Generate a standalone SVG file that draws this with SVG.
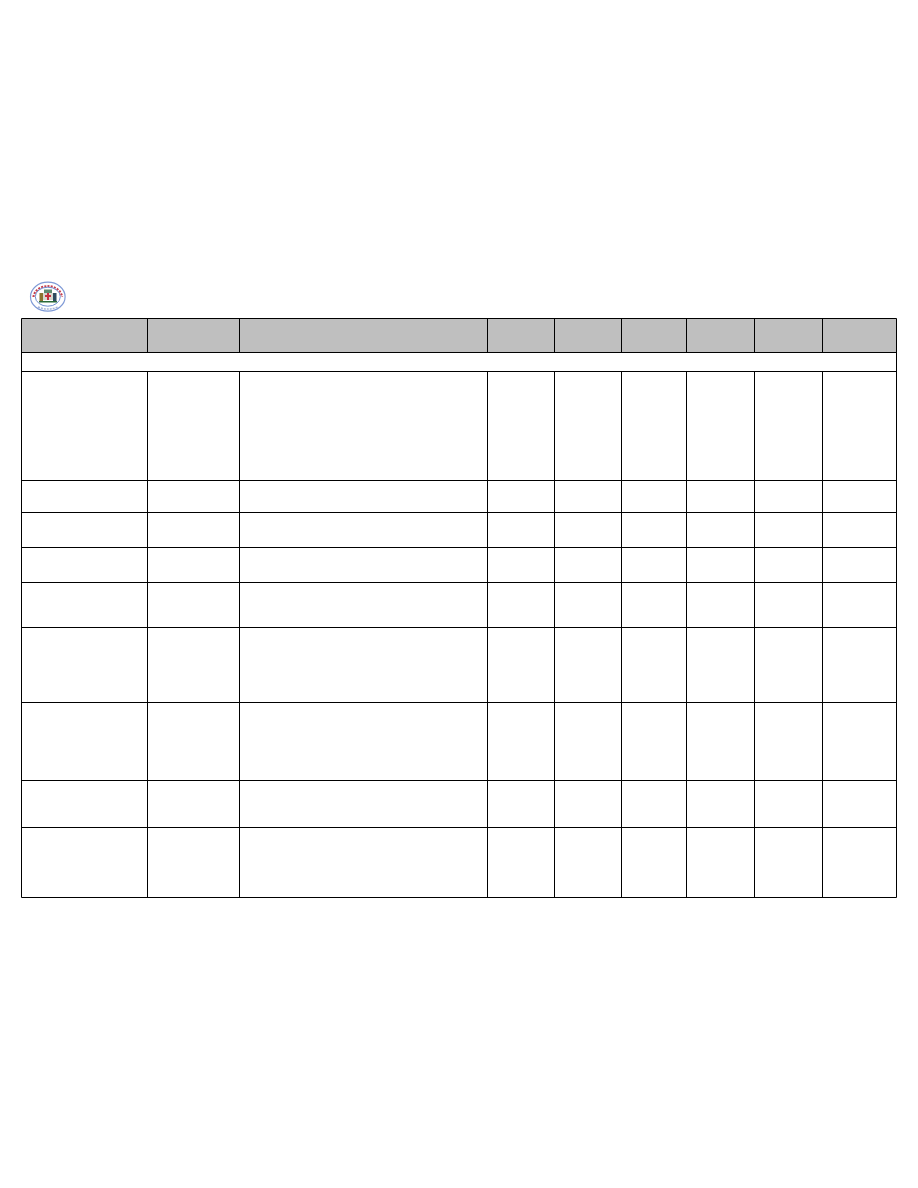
<svg xmlns="http://www.w3.org/2000/svg" width="918" height="1188" viewBox="0 0 918 1188">
<style>.l{stroke:#000;stroke-width:1;fill:none}</style>
<rect width="918" height="1188" fill="#fff"/>
<g id="logo">
<ellipse cx="47.800" cy="296.700" rx="17.300" ry="14.500" fill="#fff" stroke="#7f9ad6" stroke-width="1.200"/>
<path d="M33.500 297A14.300 11.800 0 0 1 62 297" fill="none" stroke="#c8404f" stroke-width="2.200" stroke-dasharray="2 1.200"/>
<path d="M38 307Q47.800 311 58 307" fill="none" stroke="#a8b4d8" stroke-width="1.500" stroke-dasharray="2 1"/>
<ellipse cx="47.800" cy="296.700" rx="12.500" ry="9.500" fill="#fff" stroke="#6f8fd0" stroke-width="1"/>
<rect x="44" y="289.500" width="8" height="4" fill="#5f8a70"/>
<rect x="43" y="293" width="10" height="7" fill="#d8d8d0"/>
<rect x="45" y="295" width="6" height="2" fill="#c83040"/>
<rect x="47" y="293" width="2" height="7" fill="#c83040"/>
<rect x="39.500" y="293" width="3.500" height="8" fill="#8a7430"/>
<rect x="53" y="293" width="3.500" height="8" fill="#2f4a60"/>
<rect x="39" y="301" width="18" height="1.500" fill="#2a6a3a"/>
</g>
<g id="table">
<rect x="21.500" y="318.500" width="875" height="34" fill="#bfbfbf"/>
<path class="l" d="M21.500 318.500H896.500V897.500H21.500ZM21.500 352.500H896.500M21.500 371.500H896.500M21.500 480.500H896.500M21.500 512.500H896.500M21.500 547.500H896.500M21.500 582.500H896.500M21.500 627.500H896.500M21.500 702.500H896.500M21.500 780.500H896.500M21.500 827.500H896.500"/>
<path class="l" d="M147.500 318.500V352.500M239.500 318.500V352.500M487.500 318.500V352.500M554.500 318.500V352.500M621.500 318.500V352.500M686.500 318.500V352.500M754.500 318.500V352.500M822.500 318.500V352.500"/>
<path class="l" d="M147.500 371.500V897.500M239.500 371.500V897.500M487.500 371.500V897.500M554.500 371.500V897.500M621.500 371.500V897.500M686.500 371.500V897.500M754.500 371.500V897.500M822.500 371.500V897.500"/>
</g>
</svg>
